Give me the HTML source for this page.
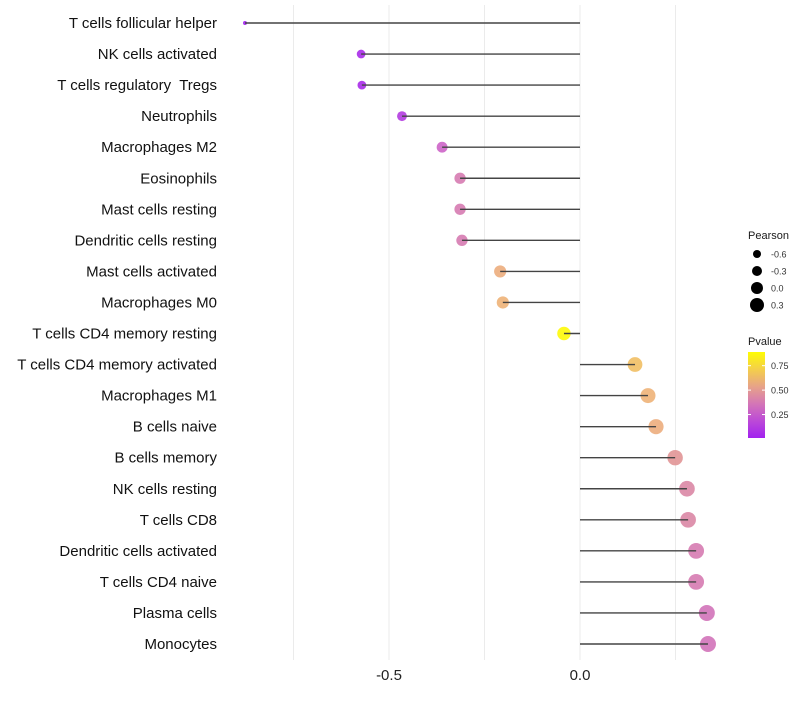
<!DOCTYPE html>
<html><head><meta charset="utf-8">
<style>
body{margin:0;background:#fff;width:800px;height:700px;overflow:hidden}
svg text{font-family:"Liberation Sans",sans-serif;white-space:pre}
</style></head>
<body>
<svg id="chart" width="800" height="700" xmlns="http://www.w3.org/2000/svg"></svg>
<script>
const categories=["T cells follicular helper","NK cells activated","T cells regulatory  Tregs","Neutrophils","Macrophages M2","Eosinophils","Mast cells resting","Dendritic cells resting","Mast cells activated","Macrophages M0","T cells CD4 memory resting","T cells CD4 memory activated","Macrophages M1","B cells naive","B cells memory","NK cells resting","T cells CD8","Dendritic cells activated","T cells CD4 naive","Plasma cells","Monocytes"];
const pearson=[-0.877,-0.573,-0.571,-0.466,-0.361,-0.314,-0.314,-0.309,-0.209,-0.202,-0.042,0.144,0.178,0.199,0.249,0.280,0.283,0.304,0.304,0.332,0.335];
const pvalue=[0.01,0.05,0.05,0.12,0.30,0.38,0.38,0.38,0.58,0.60,0.88,0.65,0.60,0.58,0.48,0.42,0.42,0.38,0.38,0.35,0.35];
const xTicks=[-0.5,0.0];
const xTickLabels=["-0.5","0.0"];
const gridVals=[-0.75,-0.5,-0.25,0,0.25];
const sizeLegendVals=[-0.6,-0.3,0.0,0.3];
const sizeLegendLabels=["-0.6","-0.3","0.0","0.3"];
const colorLegendVals=[0.25,0.5,0.75];
const colorLegendLabels=["0.25","0.50","0.75"];

const NS="http://www.w3.org/2000/svg";
const svg=document.getElementById('chart');
const x=v=>580+v*382;
const y=i=>23+i*31.05;
const r=v=>Math.sqrt(Math.max(3,47.4+49.5*v));
function col(p){
  const stops=[[0,[160,32,240]],[0.3,[205,100,200]],[0.42,[218,135,165]],[0.6,[238,178,120]],[0.9,[255,255,0]]];
  if(p<=0)return 'rgb(160,32,240)';
  for(let k=1;k<stops.length;k++){if(p<=stops[k][0]){const a=stops[k-1],b=stops[k],t=(p-a[0])/(b[0]-a[0]);
    return 'rgb('+a[1].map((c,j)=>Math.round(c+(b[1][j]-c)*t)).join(',')+')';}}
  return 'rgb(255,255,0)';
}
function el(tag,attrs,parent){const e=document.createElementNS(NS,tag);for(const k in attrs)e.setAttribute(k,attrs[k]);(parent||svg).appendChild(e);return e;}

gridVals.forEach(v=>{
  const g=el('line',{x1:x(v),x2:x(v),y1:5,y2:660,stroke:'#ebebeb','stroke-width':1});
  
  
});
xTicks.forEach((v,i)=>{
  const t=el('text',{x:x(v),y:680,'text-anchor':'middle','font-size':15,fill:'#222'});
  t.textContent=xTickLabels[i];
  
  
});
categories.forEach((c,i)=>{
  const t=el('text',{x:217,y:y(i)+5,'text-anchor':'end','font-size':15,fill:'#111'});
  t.textContent=c;
  
  
  const p=el('circle',{cx:x(pearson[i]),cy:y(i),r:r(pearson[i]),fill:col(pvalue[i]),'fill-opacity':0.9});
  
  
  const s=el('line',{x1:x(0),x2:x(pearson[i]),y1:y(i),y2:y(i),stroke:'#444','stroke-width':1.4});
  
  
});
let lt=el('text',{x:748,y:239,'font-size':11,fill:'#1a1a1a'});lt.textContent='Pearson';


sizeLegendVals.forEach((v,i)=>{
  const cy=254+i*17;
  const c=el('circle',{cx:757,cy:cy,r:4+i*1,fill:'#000'});
  
  
  const t=el('text',{x:771,y:cy+3.5,'font-size':9,fill:'#333'});t.textContent=sizeLegendLabels[i];
  
  
});
let ct=el('text',{x:748,y:345,'font-size':11,fill:'#1a1a1a'});ct.textContent='Pvalue';


const defs=el('defs',{});
const lg=el('linearGradient',{id:'pg',x1:0,y1:1,x2:0,y2:0},defs);
[0,0.2,0.4,0.6,0.8,1].forEach(f=>{el('stop',{offset:f,'stop-color':col(0.01+f*0.88)},lg);});
const bar=el('rect',{x:748,y:352,width:17,height:86,fill:'url(#pg)'});


colorLegendVals.forEach((v,i)=>{
  const yy=438-(v-0.01)/0.88*86;
  el('line',{x1:748,x2:751,y1:yy,y2:yy,stroke:'#fff'});
  el('line',{x1:762,x2:765,y1:yy,y2:yy,stroke:'#fff'});
  const t=el('text',{x:771,y:yy+3.5,'font-size':9,fill:'#333'});t.textContent=colorLegendLabels[i];
  
  
});
</script>
</body></html>
